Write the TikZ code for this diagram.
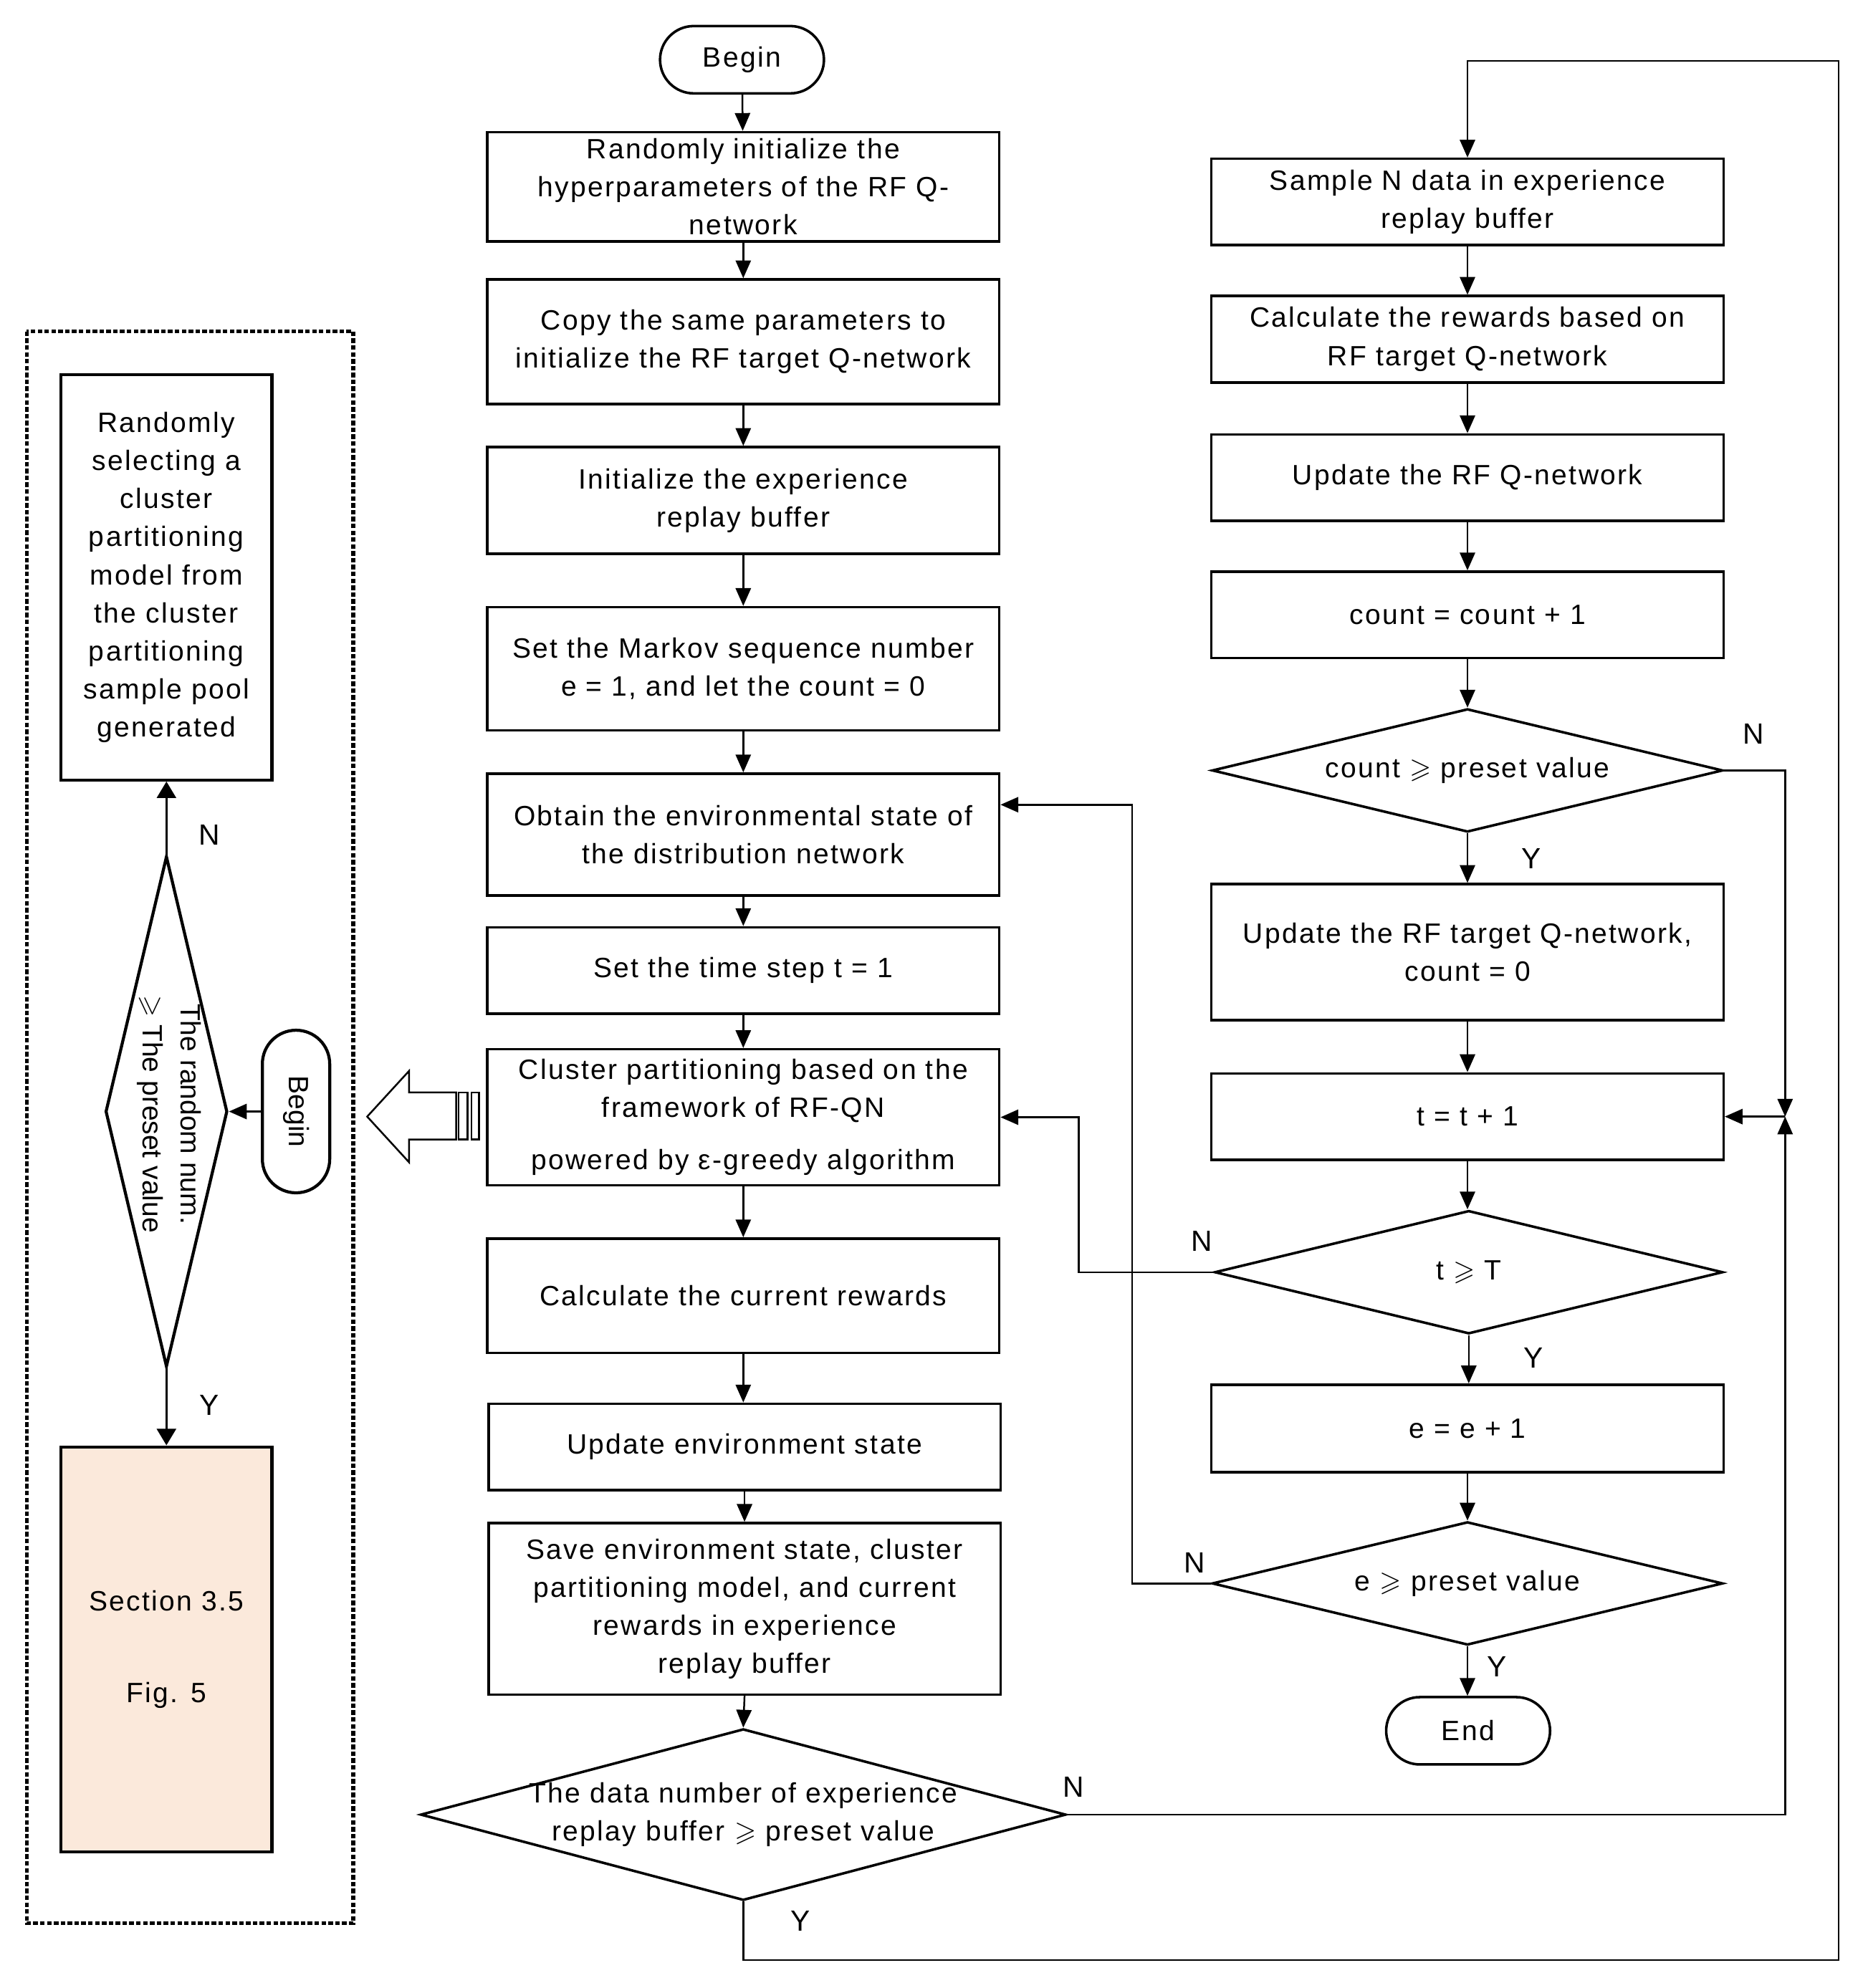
\documentclass[tikz,border=0pt]{standalone}
\usepackage{amssymb}
\usepackage{fontspec}
\setmainfont[LetterSpace=6]{Liberation Sans}
\usetikzlibrary{shapes.geometric,shapes.misc,arrows.meta,calc}
\definecolor{peach}{RGB}{251,233,219}
\begin{document}
\begin{tikzpicture}[x=0.5pt,y=-0.5pt,
  font=\fontsize{11}{15}\selectfont,
  box/.style={draw,line width=1pt,minimum width=201.5pt,inner sep=1pt,align=center},
  lbox/.style={draw,line width=1.2pt,minimum width=83pt,inner sep=1pt,align=center},
  dia/.style={draw,diamond,line width=1pt,inner sep=0pt},
  term/.style={draw,rounded rectangle,line width=1pt,minimum width=66.5pt,minimum height=26.5pt,inner sep=1pt},
  txt/.style={align=center,inner sep=0pt},
  arr/.style={draw,line width=0.7pt,-{Triangle[length=7pt,width=6pt]}},
  larr/.style={draw,line width=1pt,-{Triangle[length=6.5pt,width=7.5pt]}},
  lab/.style={inner sep=0pt,font=\fontsize{11.5}{14}\selectfont}]
\useasboundingbox (0,0) rectangle (1466,1565);

% ---------- centre column ----------
\node[term] (beg) at (584,47) {Begin};
\node[box,minimum height=43pt] (b1) at (585,147) {Randomly initialize the\\hyperparameters of the RF Q-\\network};
\node[box,minimum height=49pt] (b2) at (585,269) {Copy the same parameters to\\initialize the RF target Q-network};
\node[box,minimum height=42pt] (b3) at (585,394) {Initialize the experience\\replay buffer};
\node[box,minimum height=48.5pt] (b4) at (585,526.5) {Set the Markov sequence number\\e = 1, and let the count = 0};
\node[box,minimum height=48pt] (b5) at (585,657) {Obtain the environmental state of\\the distribution network};
\node[box,minimum height=34pt] (b6) at (585,764) {Set the time step t = 1};
\node[box,minimum height=53.5pt] (b7) at (585,879.5) {Cluster partitioning based on the\\framework of RF-QN\\[5.5pt]powered by ε-greedy algorithm};
\node[box,minimum height=45pt] (b8) at (585,1020) {Calculate the current rewards};
\node[box,minimum height=34pt] (b9) at (586,1139) {Update environment state};
\node[box,minimum height=67.5pt] (b10) at (586,1266.5) {Save environment state, cluster\\partitioning model, and current\\rewards in experience\\replay buffer};
\node[dia,minimum width=254pt,minimum height=67.5pt] (d1) at (585,1428.5) {};
\node[txt] (d1t) at (d1.center) {The data number of experience\\replay buffer $\geqslant$ preset value};

% ---------- right column ----------
\node[box,minimum height=34pt] (r1) at (1155,159) {Sample N data in experience\\replay buffer};
\node[box,minimum height=34pt] (r2) at (1155,267) {Calculate the rewards based on\\RF target Q-network};
\node[box,minimum height=34pt] (r3) at (1155,376) {Update the RF Q-network};
\node[box,minimum height=34pt] (r4) at (1155,484) {count = count + 1};
\node[dia,minimum width=201pt,minimum height=48.5pt] (rd1) at (1155,606.5) {};
\node[txt] (rd1t) at (rd1.center) {count $\geqslant$ preset value};
\node[box,minimum height=53.5pt] (r5) at (1155,749.5) {Update the RF target Q-network,\\count = 0};
\node[box,minimum height=34pt] (r6) at (1155,879) {t = t + 1};
\node[dia,minimum width=200pt,minimum height=48.5pt] (rd2) at (1156,1001.5) {};
\node[txt] (rd2t) at (rd2.center) {t $\geqslant$ T};
\node[box,minimum height=34.5pt] (r7) at (1155,1124.5) {e = e + 1};
\node[dia,minimum width=201pt,minimum height=48.5pt] (rd3) at (1155,1246.5) {};
\node[txt] (rd3t) at (rd3.center) {e $\geqslant$ preset value};
\node[term] (end) at (1155.5,1362.5) {End};

% ---------- left panel ----------
\draw[line width=1.5pt,dash pattern=on 1.8pt off 0.9pt] (21,261) rectangle (278,1514);
\node[lbox,minimum height=159.5pt] (l1) at (131,454.5) {Randomly\\selecting a\\cluster\\partitioning\\model from\\the cluster\\partitioning\\sample pool\\generated};
\node[dia,line width=1.2pt,minimum width=48pt,minimum height=201pt] (ld) at (131,875) {};
\node[txt,rotate=-90,font=\fontsize{11}{15}\selectfont\addfontfeature{LetterSpace=0}] (ldt) at (133,877) {The random num.\\$\geqslant$ The preset value};
\node[term,line width=1.2pt,rotate=-90,minimum width=66pt,minimum height=26.5pt,font=\fontsize{11}{15}\selectfont\addfontfeature{LetterSpace=0}] (lbeg) at (233,875) {Begin};
\node[lbox,fill=peach,minimum height=159.5pt] (l2) at (131,1298.5) {Section 3.5\\[21pt]Fig. 5};

% hollow arrow
\draw[line width=0.7pt] (289,879) -- (322,843) -- (322,860) -- (359,860) -- (359,897) -- (322,897) -- (322,915) -- cycle;
\draw[line width=0.7pt] (361,860) rectangle (368,897);
\draw[line width=0.7pt] (371,860) rectangle (377,897);

% ---------- connectors: centre ----------
\draw[arr] (beg) -- (b1);
\draw[arr] (b1) -- (b2);
\draw[arr] (b2) -- (b3);
\draw[arr] (b3) -- (b4);
\draw[arr] (b4) -- (b5);
\draw[arr] (b5) -- (b6);
\draw[arr] (b6) -- (b7);
\draw[arr] (b7) -- (b8);
\draw[arr] (b8.south) -- (b8.south |- b9.north);
\draw[arr] (b9) -- (b10);
\draw[arr] (b10.south) -- (d1.north);

\coordinate (loopB) at (1447,1543);
\coordinate (loopT) at (1447,48);
\draw[arr] (d1.south) |- (loopB) -- (loopT) -| (r1.north);

\coordinate (J) at (1405,879);
\draw[arr] (d1.east) -| (J);
\draw[arr] (rd1.east) -| (J);
\draw[arr] (J) -- (r6.east);

% ---------- connectors: right ----------
\draw[arr] (r1) -- (r2);
\draw[arr] (r2) -- (r3);
\draw[arr] (r3) -- (r4);
\draw[arr] (r4) -- (rd1);
\draw[arr] (rd1) -- (r5);
\draw[arr] (r5) -- (r6);
\draw[arr] (r6.south) -- (r6.south |- rd2.north);
\draw[arr] (rd2.south) -- (rd2.south |- r7.north);
\draw[arr] (r7) -- (rd3);
\draw[arr] (rd3.south) -- (rd3.south |- end.north);

\coordinate (xk1) at (849,0);
\coordinate (xk2) at (891,0);
\coordinate (b5in) at ($(b5.north east)!0.26!(b5.south east)$);
\draw[arr] (rd2.west) -- (rd2.west -| xk1) |- (b7.east);
\draw[arr] (rd3.west) -- (rd3.west -| xk2) |- (b5in);

% ---------- connectors: left ----------
\draw[larr] (ld.north) -- (l1.south);
\draw[arr] (lbeg.south) -- (ld.east);
\draw[larr] (ld.south) -- (l2.north);

% ---------- labels ----------
\node[lab] (nl) at (165,657) {N};
\node[lab] (yl) at (165,1106) {Y};
\node[lab] (n1) at (845,1407) {N};
\node[lab] (y1) at (630,1512) {Y};
\node[lab] (n2) at (1380,578) {N};
\node[lab] (y2) at (1205,676) {Y};
\node[lab] (n3) at (946,977) {N};
\node[lab] (y3) at (1207,1069) {Y};
\node[lab] (n4) at (940,1230) {N};
\node[lab] (y4) at (1178,1312) {Y};
\end{tikzpicture}
\end{document}
